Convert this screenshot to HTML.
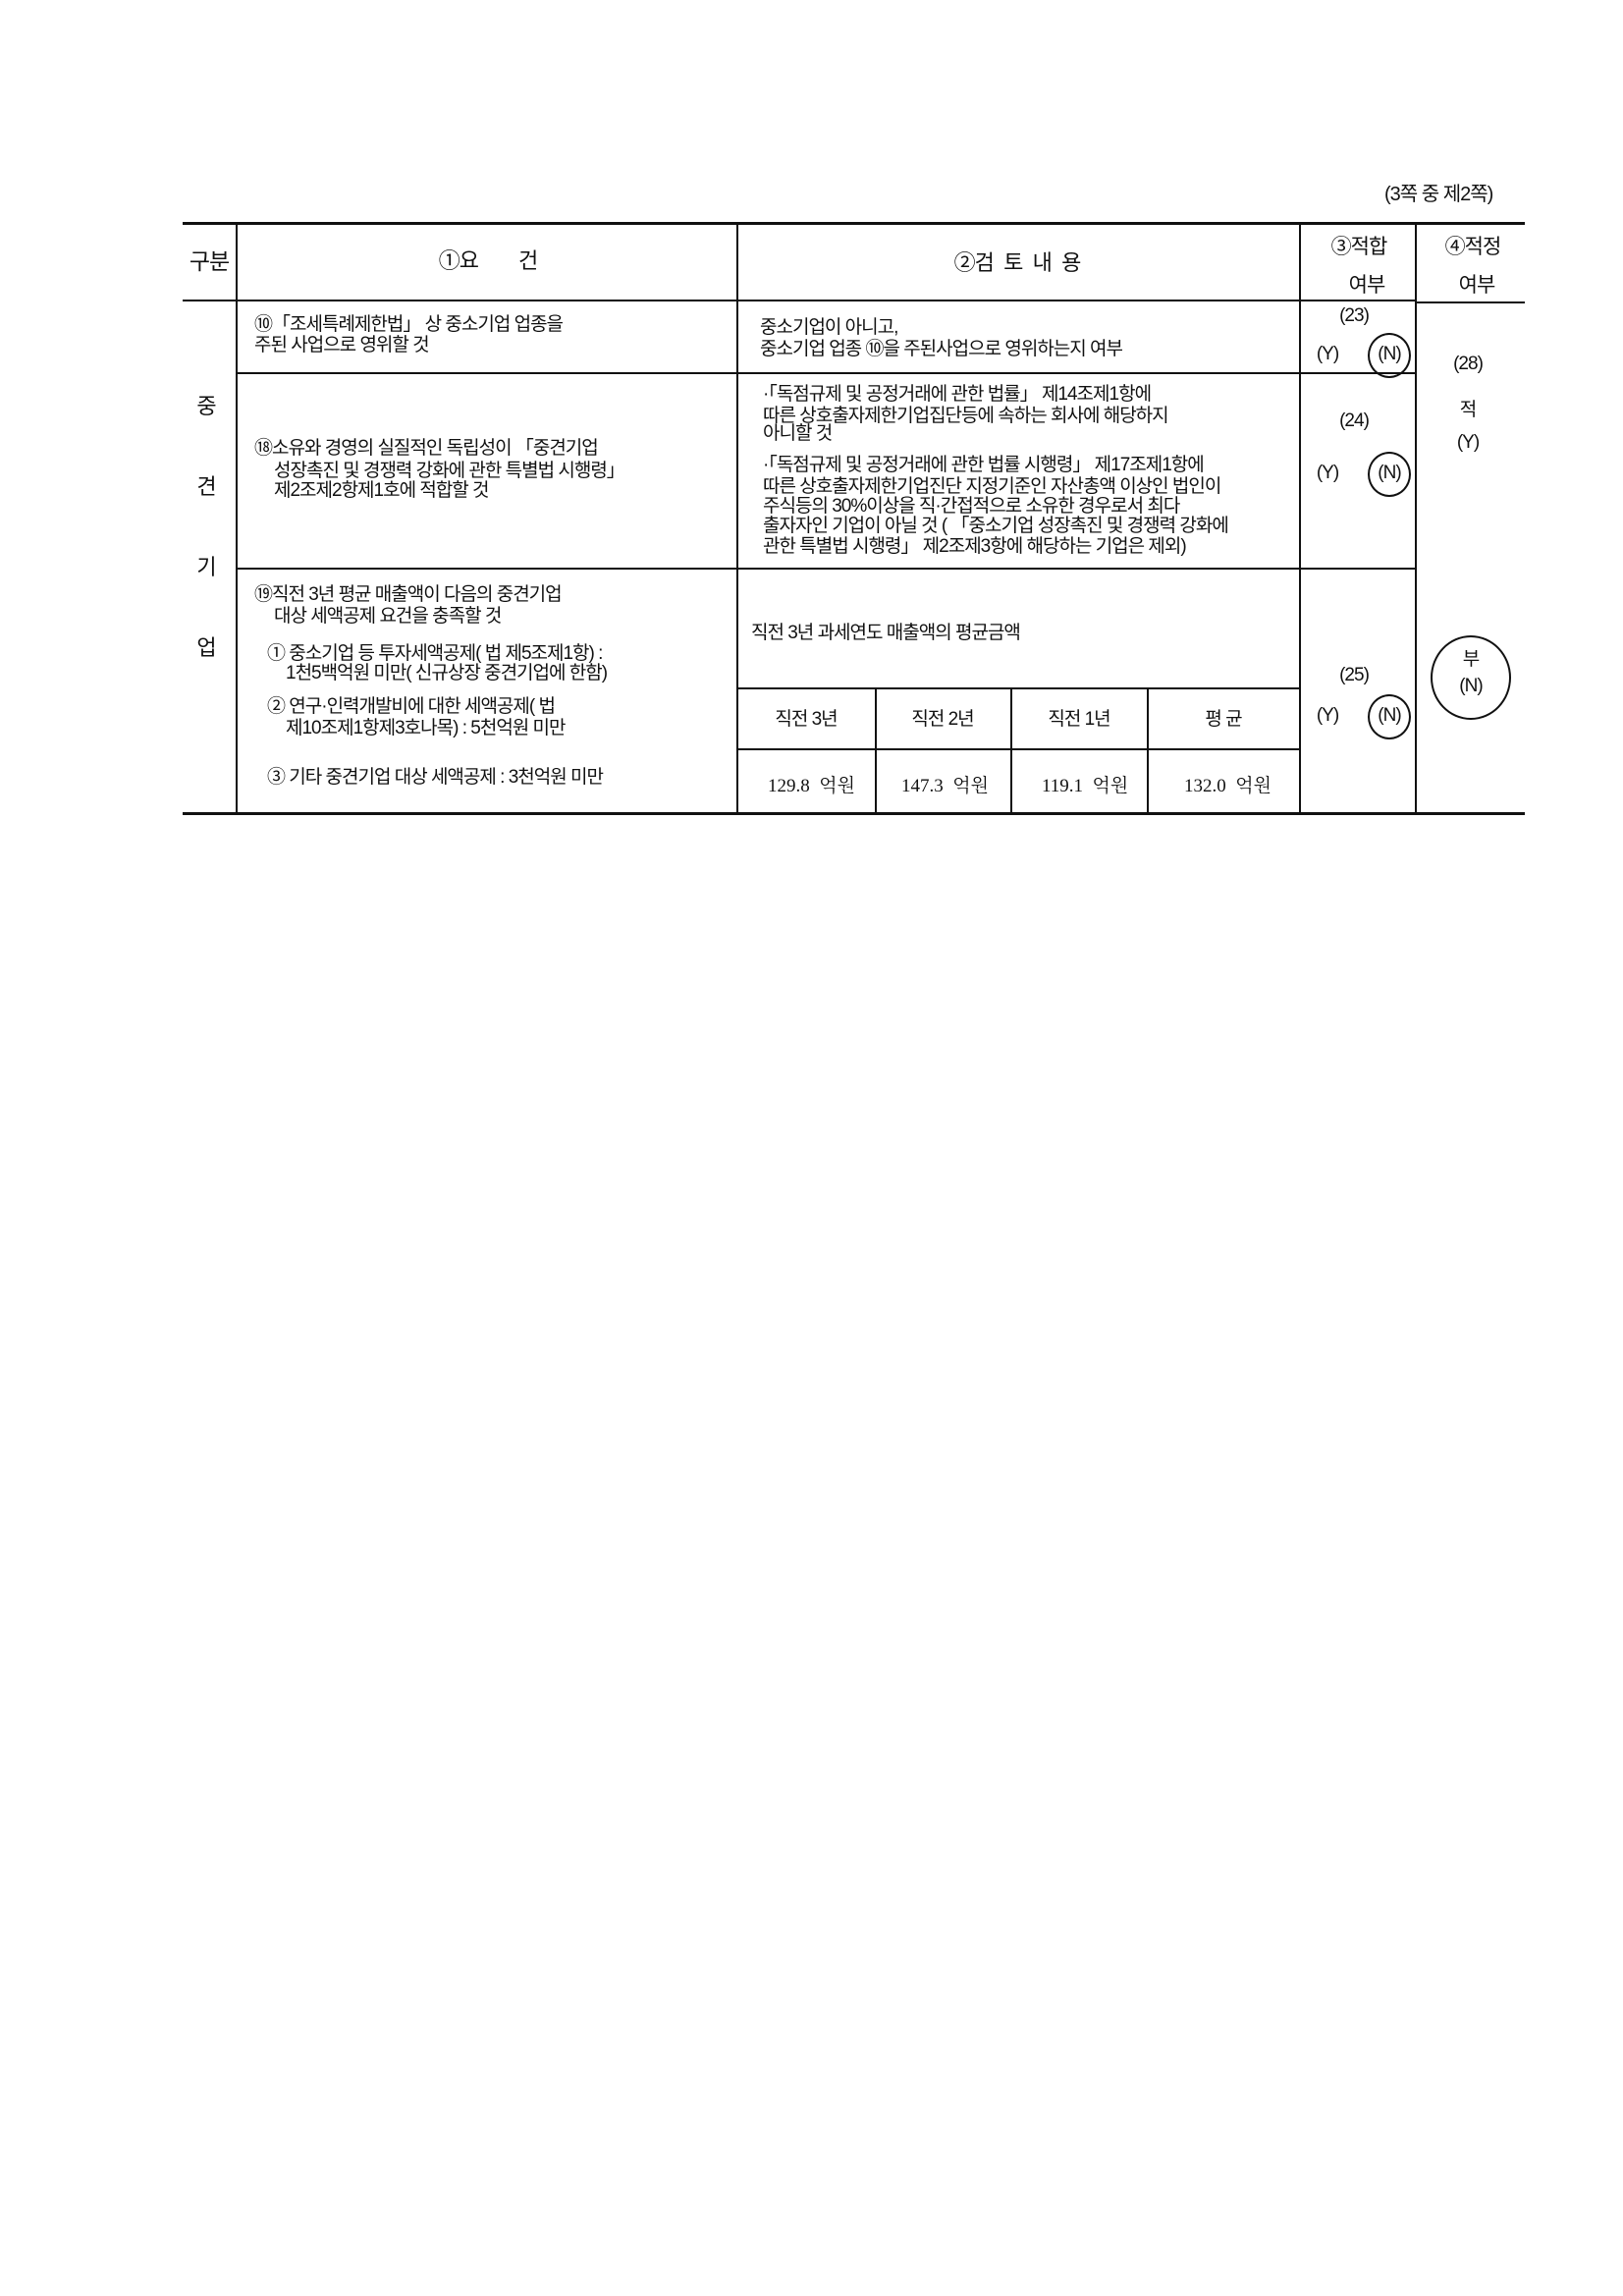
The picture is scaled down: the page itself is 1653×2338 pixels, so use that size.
<!DOCTYPE html>
<html><head><meta charset="utf-8"><style>
body{margin:0;background:#fff;}
#p{position:relative;width:1653px;height:2338px;background:#fff;font-family:"Liberation Sans","Noto Sans CJK KR","NanumGothic",sans-serif;color:#111;overflow:hidden}
.h,.v{position:absolute;background:#111}
.t{position:absolute;font-size:19px;line-height:22px;white-space:nowrap;letter-spacing:-1px}
.c{transform:translateX(-50%)}
.s{font-family:"Liberation Serif","Noto Serif CJK SC",serif;font-size:19px;letter-spacing:0}
.o{position:absolute;border:2px solid #111;border-radius:50%}
</style></head><body><div id="p">
<div class="t" style="left:1410px;top:187px;font-size:20px">(3쪽 중 제2쪽)</div>
<div class="h" style="left:186px;top:226px;width:1367px;height:3px"></div>
<div class="h" style="left:186px;top:305px;width:1255px;height:2px"></div>
<div class="h" style="left:1441px;top:307px;width:112px;height:2px"></div>
<div class="h" style="left:241px;top:379px;width:1200px;height:2px"></div>
<div class="h" style="left:241px;top:578px;width:1200px;height:2px"></div>
<div class="h" style="left:750px;top:700px;width:573px;height:2px"></div>
<div class="h" style="left:750px;top:762px;width:573px;height:2px"></div>
<div class="h" style="left:186px;top:827px;width:1367px;height:3px"></div>
<div class="v" style="left:240px;top:227px;width:2px;height:601px"></div>
<div class="v" style="left:750px;top:227px;width:2px;height:601px"></div>
<div class="v" style="left:891px;top:700px;width:2px;height:128px"></div>
<div class="v" style="left:1029px;top:700px;width:2px;height:128px"></div>
<div class="v" style="left:1168px;top:700px;width:2px;height:128px"></div>
<div class="v" style="left:1323px;top:227px;width:2px;height:601px"></div>
<div class="v" style="left:1441px;top:227px;width:2px;height:601px"></div>
<div class="t c" style="left:213px;top:253px;font-size:23px;line-height:26px">구분</div>
<div class="t c" style="left:497px;top:253px;font-size:22px;line-height:26px">①요&nbsp;&nbsp;&nbsp;&nbsp;&nbsp;&nbsp;&nbsp;&nbsp;건</div>
<div class="t c" style="left:1036px;top:255px;font-size:22px;line-height:26px">②검 &nbsp;토 &nbsp;내 &nbsp;용</div>
<div class="t c" style="left:1384px;top:239px;font-size:21px;line-height:26px">③적합</div>
<div class="t c" style="left:1392px;top:278px;font-size:21px;line-height:26px">여부</div>
<div class="t c" style="left:1500px;top:239px;font-size:21px;line-height:26px">④적정</div>
<div class="t c" style="left:1504px;top:278px;font-size:21px;line-height:26px">여부</div>
<div class="t c" style="left:210px;top:401px;font-size:22px;line-height:26px">중</div>
<div class="t c" style="left:210px;top:483px;font-size:22px;line-height:26px">견</div>
<div class="t c" style="left:210px;top:565px;font-size:22px;line-height:26px">기</div>
<div class="t c" style="left:210px;top:647px;font-size:22px;line-height:26px">업</div>
<div class="t" style="left:259px;top:320px">⑩「조세특례제한법」 상 중소기업 업종을</div>
<div class="t" style="left:259px;top:341px">주된 사업으로 영위할 것</div>
<div class="t" style="left:259px;top:446px">⑱소유와 경영의 실질적인 독립성이 「중견기업</div>
<div class="t" style="left:279px;top:469px">성장촉진 및 경쟁력 강화에 관한 특별법 시행령」</div>
<div class="t" style="left:279px;top:489px">제2조제2항제1호에 적합할 것</div>
<div class="t" style="left:259px;top:595px">⑲직전 3년 평균 매출액이 다음의 중견기업</div>
<div class="t" style="left:279px;top:617px">대상 세액공제 요건을 충족할 것</div>
<div class="t" style="left:272px;top:655px">① 중소기업 등 투자세액공제( 법 제5조제1항) :</div>
<div class="t" style="left:291px;top:675px">1천5백억원 미만( 신규상장 중견기업에 한함)</div>
<div class="t" style="left:272px;top:709px">② 연구·인력개발비에 대한 세액공제( 법</div>
<div class="t" style="left:291px;top:731px">제10조제1항제3호나목) : 5천억원 미만</div>
<div class="t" style="left:272px;top:781px">③ 기타 중견기업 대상 세액공제 : 3천억원 미만</div>
<div class="t" style="left:774px;top:323px">중소기업이 아니고,</div>
<div class="t" style="left:774px;top:345px">중소기업 업종 ⑩을 주된사업으로 영위하는지 여부</div>
<div class="t" style="left:777px;top:391px">·「독점규제 및 공정거래에 관한 법률」 제14조제1항에</div>
<div class="t" style="left:777px;top:413px">따른 상호출자제한기업집단등에 속하는 회사에 해당하지</div>
<div class="t" style="left:777px;top:431px">아니할 것</div>
<div class="t" style="left:777px;top:463px">·「독점규제 및 공정거래에 관한 법률 시행령」 제17조제1항에</div>
<div class="t" style="left:777px;top:485px">따른 상호출자제한기업진단 지정기준인 자산총액 이상인 법인이</div>
<div class="t" style="left:777px;top:505px">주식등의 30%이상을 직·간접적으로 소유한 경우로서 최다</div>
<div class="t" style="left:777px;top:525px">출자자인 기업이 아닐 것 ( 「중소기업 성장촉진 및 경쟁력 강화에</div>
<div class="t" style="left:777px;top:546px">관한 특별법 시행령」 제2조제3항에 해당하는 기업은 제외)</div>
<div class="t" style="left:765px;top:634px">직전 3년 과세연도 매출액의 평균금액</div>
<div class="t c" style="left:821px;top:722px">직전 3년</div>
<div class="t c" style="left:960px;top:722px">직전 2년</div>
<div class="t c" style="left:1099px;top:722px">직전 1년</div>
<div class="t c" style="left:1246px;top:722px">평 균</div>
<div class="t s" style="left:782px;top:790px">129.8&nbsp; 억원</div>
<div class="t s" style="left:918px;top:790px">147.3&nbsp; 억원</div>
<div class="t s" style="left:1061px;top:790px">119.1&nbsp; 억원</div>
<div class="t s" style="left:1206px;top:790px">132.0&nbsp; 억원</div>
<div class="t c" style="left:1379px;top:311px">(23)</div>
<div class="t c" style="left:1352px;top:350px">(Y)</div>
<div class="t c" style="left:1415px;top:350px">(N)</div>
<div class="o" style="left:1393px;top:339px;width:40px;height:42px"></div>
<div class="t c" style="left:1379px;top:418px">(24)</div>
<div class="t c" style="left:1352px;top:471px">(Y)</div>
<div class="t c" style="left:1415px;top:471px">(N)</div>
<div class="o" style="left:1393px;top:460px;width:40px;height:42px"></div>
<div class="t c" style="left:1379px;top:677px">(25)</div>
<div class="t c" style="left:1352px;top:718px">(Y)</div>
<div class="t c" style="left:1415px;top:718px">(N)</div>
<div class="o" style="left:1393px;top:707px;width:40px;height:42px"></div>
<div class="t c" style="left:1495px;top:360px">(28)</div>
<div class="t c" style="left:1495px;top:407px">적</div>
<div class="t c" style="left:1495px;top:440px">(Y)</div>
<div class="t c" style="left:1498px;top:661px">부</div>
<div class="t c" style="left:1498px;top:688px">(N)</div>
<div class="o" style="left:1457px;top:647px;width:78px;height:82px"></div>
</div></body></html>
